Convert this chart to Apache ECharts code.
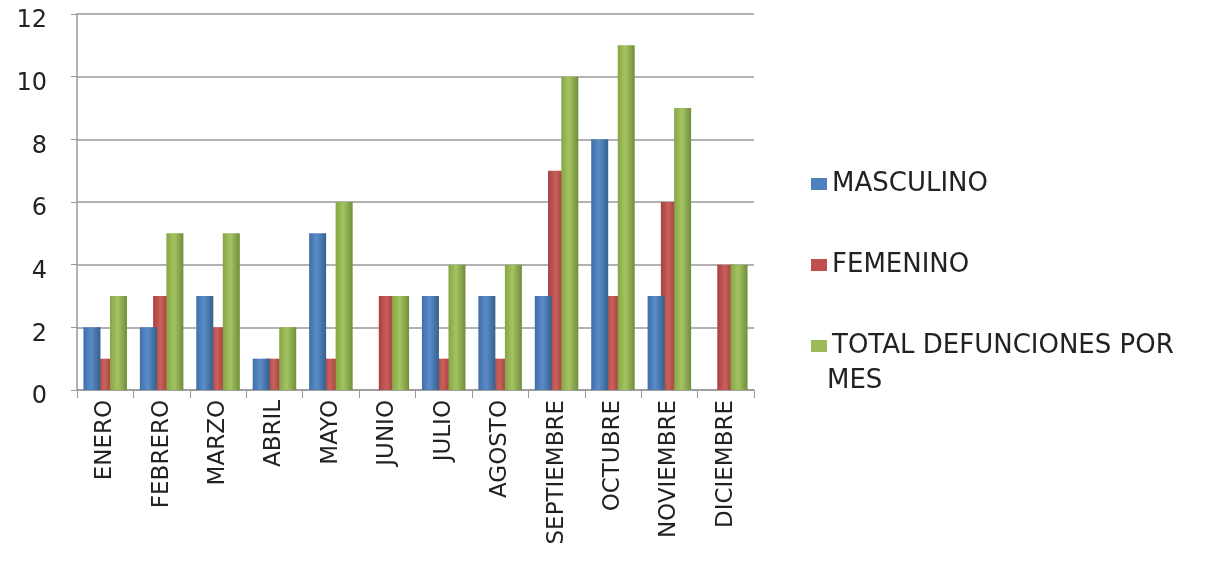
<!DOCTYPE html>
<html>
<head>
<meta charset="utf-8">
<script src="https://cdn.jsdelivr.net/npm/echarts@6/dist/echarts.min.js"></script>
<style>html,body{margin:0;padding:0;background:#fff}#c{width:1207px;height:567px}</style>
</head>
<body>
<div id="c"></div>
<script>
const categories = ['ENERO','FEBRERO','MARZO','ABRIL','MAYO','JUNIO','JULIO','AGOSTO','SEPTIEMBRE','OCTUBRE','NOVIEMBRE','DICIEMBRE'];
const masculino = [2,2,3,1,5,0,3,3,3,8,3,0];
const femenino = [1,3,2,1,1,3,1,1,7,3,6,4];
const total = [3,5,5,2,6,3,4,4,10,11,9,4];
const seriesNames = ['MASCULINO','FEMENINO','TOTAL DEFUNCIONES POR'];
const yTicks = [0,2,4,6,8,10,12];

function grad(c1, c2, c3) {
  return new echarts.graphic.LinearGradient(0,0,1,0,[
    {offset:0,color:c1},{offset:0.45,color:c2},{offset:1,color:c3}
  ]);
}
const colors = [
  grad('#3f6fa8','#5a8cc8','#35608f'),
  grad('#a8403d','#c9605c','#963633'),
  grad('#86a545','#a4c462','#718d3b')
];
const legendColors = ['#4F81BD','#C0504D','#9BBB59'];
const font = 'DejaVu Sans';

const chart = echarts.init(document.getElementById('c'));
chart.setOption({
  animation:false,
  color: legendColors,
  grid:{left:77, top:14, width:677, height:376},
  legend:{
    orient:'vertical', left:806, top:166, itemWidth:16, itemHeight:12, itemGap:55,
    icon:'rect',
    textStyle:{fontFamily:font, fontSize:26, color:'#222', lineHeight:26},
    data: seriesNames.map((n,i)=>({name:n, itemStyle:{color:legendColors[i]}}))
  },
  graphic:[{type:'text', left:827, top:368, style:{text:'MES', font:'26px "DejaVu Sans"', fill:'#222'}}],
  xAxis:{
    type:'category', data:categories,
    axisLine:{lineStyle:{color:'#999', width:1.5}},
    axisTick:{show:true, length:8, lineStyle:{color:'#999'}},
    axisLabel:{rotate:90, fontFamily:font, fontSize:23, color:'#222', margin:10, interval:0}
  },
  yAxis:{
    type:'value', min:0, max:12, interval:2,
    axisLine:{show:true, lineStyle:{color:'#999', width:1.5}},
    axisTick:{show:true, length:6, lineStyle:{color:'#999'}},
    axisLabel:{fontFamily:font, fontSize:24, color:'#222', margin:30, verticalAlign:'top', lineHeight:14,
      formatter: v => yTicks.includes(v) ? String(v) : ''},
    splitLine:{lineStyle:{color:'#999', width:1.5}}
  },
  series:[
    {name:seriesNames[0], type:'bar', data:masculino, barWidth:17, barGap:'-22%', itemStyle:{color:colors[0]}, z:3},
    {name:seriesNames[1], type:'bar', data:femenino, barWidth:17, barGap:'-22%', itemStyle:{color:colors[1]}, z:2},
    {name:seriesNames[2], type:'bar', data:total, barWidth:17, barGap:'-22%', itemStyle:{color:colors[2]}, z:4}
  ]
});
</script>
</body>
</html>
